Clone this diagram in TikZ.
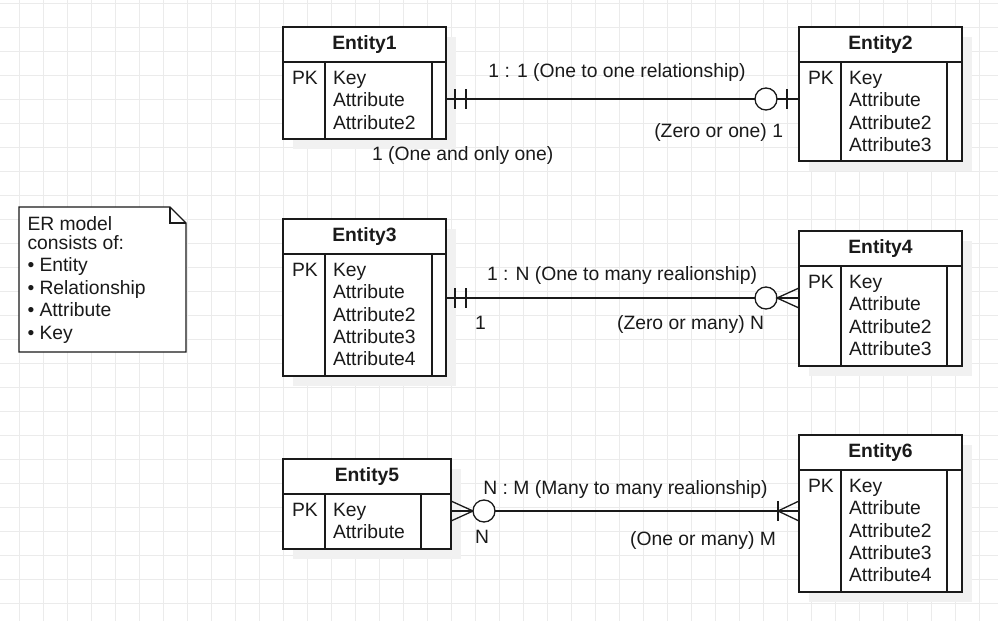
\documentclass[tikz,border=0pt]{standalone}
\usepackage{fontspec}
\setmainfont{Liberation Sans}
\definecolor{gridc}{HTML}{EBEBEB}
\definecolor{shadowc}{HTML}{F1F1F1}
\definecolor{inkc}{HTML}{1A1A1A}
\newcommand\drawent[8]{%
  \fill[shadowc] (#2+10,#3+10) rectangle (#2+#4+10,#3+#5+10);
  \node[ent, minimum width=#4, minimum height=#5] (#1) at (#2,#3) {};
  \draw[ln] (#2,#3+35) -- (#2+#4,#3+35);
  \draw[ln] (#2+42,#3+35) -- (#2+42,#3+#5);
  \draw[ln] (#2+#6,#3+35) -- (#2+#6,#3+#5);
  \node[txt, font=\fontsize{19.3}{22.4}\selectfont\bfseries, anchor=base] (#1-t) at (#2+#4/2,#3+22.3) {#7};
  \node[txt, anchor=base west] (#1-pk) at (#2+9,#3+57.3) {PK};
  \foreach \r [count=\i] in {#8}
    \node[txt, anchor=base west] (#1-r\i) at (#2+50,#3+57.3+22.4*\i-22.4) {\r};
}
\begin{document}
\begin{tikzpicture}[x=1pt,y=-1pt,
  txt/.style={inner sep=0pt, outer sep=0pt, text=inkc, font=\fontsize{19.3}{22.4}\selectfont},
  ent/.style={draw=inkc, line width=1.3pt, fill=white, inner sep=0pt, outer sep=0pt, anchor=north west},
  ln/.style={draw=inkc, line width=1.3pt},
  gl/.style={draw=gridc, line width=1pt}]
\useasboundingbox (0,0) rectangle (998,621);
\fill[white] (0,0) rectangle (998,621);
% grid
\foreach \k in {0,...,40} \draw[gl] (19.3+24*\k,0) -- (19.3+24*\k,621);
\foreach \k in {0,...,25} \draw[gl] (0,3.3+24*\k) -- (998,3.3+24*\k);

% note
\node[inner sep=0pt, outer sep=0pt, minimum width=167, minimum height=145, anchor=north west] (note) at (19,207) {};
\draw[ln, fill=white] (note.north west) -- ([xshift=-16pt]note.north east) -- ([yshift=-16pt]note.north east) -- (note.south east) -- (note.south west) -- cycle;
\draw[ln] ([xshift=-16pt]note.north east) -- ++(0,16) -- ++(16,0);
\node[txt, anchor=base west] (n1) at (27.5,230) {ER model};
\node[txt, anchor=base west] (n2) at (27.5,249.5) {consists of:};
\foreach \t/\yy [count=\i] in {Entity/271.8, Relationship/294.2, Attribute/316.6, Key/339}{
  \node[txt, anchor=base west] (nb\i) at (27.5,\yy) {•};
  \node[txt, anchor=base west] (nt\i) at (39.5,\yy) {\t};
}

% entities
\drawent{e1}{283}{27}{163}{112}{149}{Entity1}{Key,Attribute,Attribute2}
\drawent{e2}{799}{27}{163}{134}{148}{Entity2}{Key,Attribute,Attribute2,Attribute3}
\drawent{e3}{283}{219}{163}{157}{149}{Entity3}{Key,Attribute,Attribute2,Attribute3,Attribute4}
\drawent{e4}{799}{231}{163}{135}{148}{Entity4}{Key,Attribute,Attribute2,Attribute3}
\drawent{e5}{283}{459}{168}{90}{138}{Entity5}{Key,Attribute}
\drawent{e6}{799}{435}{163}{157}{148}{Entity6}{Key,Attribute,Attribute2,Attribute3,Attribute4}

% connector rows
\coordinate (y1) at (0,99);
\coordinate (y2) at (0,298);
\coordinate (y3) at (0,511);

% 1 : 1
\draw[ln] (e1.east |- y1) -- (e2.west |- y1);
\draw[ln] (e1.east |- y1) ++(9,-10) -- ++(0,20);
\draw[ln] (e1.east |- y1) ++(20,-10) -- ++(0,20);
\draw[ln, fill=white] (e2.west |- y1) ++(-33,0) circle[radius=11pt];
\draw[ln] (e2.west |- y1) ++(-12,-10) -- ++(0,20);
\node[txt, anchor=base] (l1) at (617,77) {1 : 1 (One to one relationship)};
\node[txt, anchor=base east] (l1b) at (783,137) {(Zero or one) 1};
\node[txt, anchor=base west] (l1a) at (372,160) {1 (One and only one)};

% 1 : N
\draw[ln] (e3.east |- y2) -- (e4.west |- y2);
\draw[ln] (e3.east |- y2) ++(9,-10) -- ++(0,20);
\draw[ln] (e3.east |- y2) ++(20,-10) -- ++(0,20);
\draw[ln, fill=white] (e4.west |- y2) ++(-33,0) circle[radius=11pt];
\draw[ln] (e4.west |- y2) ++(0,-10) -- ++(-22,10) -- ++(22,10);
\node[txt, anchor=base] (l2) at (622,280) {1 : N (One to many realionship)};
\node[txt, anchor=base west] (l2a) at (475,329) {1};
\node[txt, anchor=base east] (l2b) at (764,329) {(Zero or many) N};

% N : M
\draw[ln] (e5.east |- y3) -- (e6.west |- y3);
\draw[ln] (e5.east |- y3) ++(0,-10) -- ++(22,10) -- ++(-22,10);
\draw[ln, fill=white] (e5.east |- y3) ++(33,0) circle[radius=11pt];
\draw[ln] (e6.west |- y3) ++(0,-10) -- ++(-21,10) -- ++(21,10);
\draw[ln] (e6.west |- y3) ++(-21,-10) -- ++(0,20);
\node[txt, anchor=base] (l3) at (625.5,494) {N : M (Many to many realionship)};
\node[txt, anchor=base west] (l3a) at (475,543) {N};
\node[txt, anchor=base east] (l3b) at (776,545) {(One or many) M};
\end{tikzpicture}
\end{document}
